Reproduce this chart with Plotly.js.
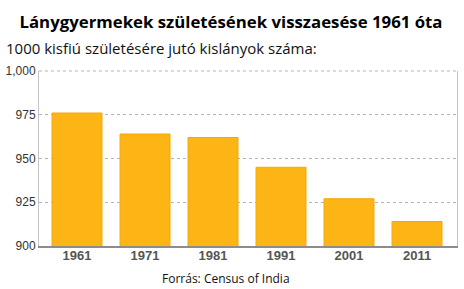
<!DOCTYPE html>
<html>
<head>
<meta charset="utf-8">
<script src="https://cdn.plot.ly/plotly-3.0.1.min.js"></script>
<style>html,body{margin:0;padding:0;background:#fff}#chart{width:464px;height:289px}</style>
</head>
<body>
<div id="chart"></div>
<script>
var years = ["1961", "1971", "1981", "1991", "2001", "2011"];
var girlsPer1000Boys = [976, 964, 962, 945, 927, 914];
var yTicks = [900, 925, 950, 975, 1000];
var titleText = "Lánygyermekek születésének visszaesése 1961 óta";
var subtitleText = "1000 kisfiú születésére jutó kislányok száma:";
var sourceText = "Forrás: Census of India";

var trace = {
  type: "bar",
  x: years,
  y: girlsPer1000Boys,
  marker: {color: "#FDB515", line: {color: "#F5A800", width: 1}},
  hoverinfo: "x+y"
};

var layout = {
  width: 464, height: 289,
  margin: {l: 39, r: 7, t: 71, b: 43},
  paper_bgcolor: "#fff", plot_bgcolor: "#fff",
  bargap: 0.265,
  showlegend: false,
  title: {
    text: "<b>" + titleText + "</b>",
    font: {family: "Open Sans", size: 16.8, color: "#000", weight: 800},
    x: 231/464, xanchor: "center", xref: "container",
    y: 1 - 22/289, yanchor: "middle", yref: "container"
  },
  xaxis: {
    type: "category",
    range: [-0.559, 5.588],
    showline: true, linecolor: "#8c8c8c", linewidth: 2,
    ticks: "", showgrid: false,
    tickfont: {family: "Arial", size: 13, color: "#555"},
    ticklabelstandoff: -4
  },
  yaxis: {
    range: [900, 1000],
    tickvals: yTicks,
    tickformat: ",d",
    showline: true, mirror: true, linecolor: "#c4c4c4", linewidth: 1,
    showgrid: true, gridcolor: "#b5b5b5", gridwidth: 1, griddash: "dot",
    zeroline: false, ticks: "",
    tickfont: {family: "Arial", size: 12, color: "#333"}
  },
  shapes: [{
    type: "line", xref: "paper", yref: "paper", x0: 0, x1: 1, y0: 1, y1: 1,
    line: {color: "#b5b5b5", width: 1, dash: "dot"}
  }],
  annotations: [
    {text: subtitleText, xref: "paper", yref: "paper", x: -39/418, y: 1 + 23/175,
     xanchor: "left", yanchor: "middle", showarrow: false, xshift: 4,
     font: {family: "Open Sans", size: 15, color: "#111"}},
    {text: sourceText, xref: "paper", yref: "paper", x: (226 - 39)/418, y: -32/175,
     xanchor: "center", yanchor: "middle", showarrow: false,
     font: {family: "Open Sans", size: 12, color: "#111"}}
  ]
};

// bold x tick labels
layout.xaxis.tickvals = years;
layout.xaxis.ticktext = years.map(function (y) { return "<b>" + y + "</b>"; });

Plotly.newPlot("chart", [trace], layout, {displayModeBar: false, staticPlot: true});
</script>
</body>
</html>
